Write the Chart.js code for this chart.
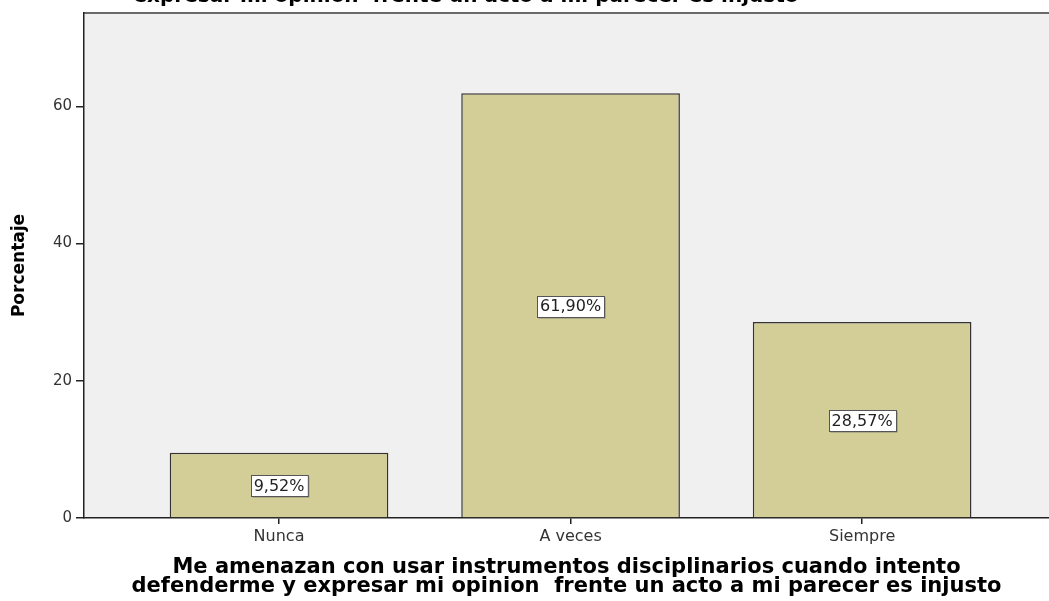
<!DOCTYPE html>
<html>
<head>
<meta charset="utf-8">
<script src="https://cdn.jsdelivr.net/npm/chart.js@4/dist/chart.umd.min.js"></script>
<style>
  html, body { margin: 0; padding: 0; background: #fff; overflow: hidden; }
  #wrap { width: 1049px; height: 601px; }
</style>
</head>
<body>
<div id="wrap"><canvas id="myChart"></canvas></div>
<script>
/* datos */
const categorias = ['Nunca', 'A veces', 'Siempre'];
const porcentajes = [9.52, 61.90, 28.57];
const ticksY = [0, 20, 40, 60];

const tituloEje = ['Me amenazan con usar instrumentos disciplinarios cuando intento',
  'defenderme y expresar mi opinion  frente un acto a mi parecer es injusto'];
const tituloArriba = 'expresar mi opinion  frente un acto a mi parecer es injusto';

Chart.defaults.font.family = 'DejaVu Sans';

/* fondo gris del area y linea superior */
const fondoPlot = {
  id: 'fondoPlot',
  beforeDraw(chart) {
    const { ctx, chartArea: a } = chart;
    ctx.save();
    ctx.fillStyle = '#f0f0f0';
    ctx.fillRect(a.left, a.top, a.right - a.left + 5, a.bottom - a.top);
    ctx.strokeStyle = '#6a6a6a';
    ctx.lineWidth = 2;
    ctx.beginPath();
    ctx.moveTo(a.left, a.top);
    ctx.lineTo(a.right + 5, a.top);
    ctx.stroke();
    ctx.restore();
  }
};

/* titulo cortado arriba */
const tituloSuperior = {
  id: 'tituloSuperior',
  afterDraw(chart) {
    const { ctx } = chart;
    ctx.save();
    ctx.font = 'bold 20px "DejaVu Sans"';
    ctx.fillStyle = '#000';
    ctx.textAlign = 'center';
    ctx.textBaseline = 'alphabetic';
    ctx.fillText(tituloArriba, 466, 2);
    ctx.restore();
  }
};

/* etiquetas de porcentaje en cajas blancas */
const etiquetas = {
  id: 'etiquetas',
  afterDatasetsDraw(chart) {
    const { ctx } = chart;
    const meta = chart.getDatasetMeta(0);
    ctx.save();
    ctx.font = '16px "DejaVu Sans"';
    ctx.textAlign = 'center';
    ctx.textBaseline = 'middle';
    meta.data.forEach(function(bar, i) {
      const txt = porcentajes[i].toFixed(2).replace('.', ',') + '%';
      const cy = (bar.y + bar.base) / 2;
      const w = ctx.measureText(txt).width + 6;
      const h = 21;
      const x0 = Math.round(bar.x - w / 2) + 0.5;
      const y0 = Math.round(cy - h / 2) + 1.5;
      ctx.fillStyle = '#8a8a7a';
      ctx.fillRect(x0 + 1, y0 + 1, w, h);
      ctx.fillStyle = '#fff';
      ctx.fillRect(x0, y0, w, h);
      ctx.strokeStyle = '#555';
      ctx.lineWidth = 1;
      ctx.strokeRect(x0, y0, w, h);
      ctx.fillStyle = '#222';
      ctx.fillText(txt, bar.x, cy + 2);
    });
    ctx.restore();
  }
};

const ctx = document.getElementById('myChart').getContext('2d');

// eslint-disable-next-line no-undef
const chart = new Chart(ctx, {
  type: 'bar',
  data: {
    datasets: [{
      label: 'Porcentaje',
      data: porcentajes.map(function(v, i) { return { x: i, y: v }; }),
      backgroundColor: '#d3ce97',
      borderColor: '#333',
      borderWidth: { top: 1.5, left: 1.5, right: 1.5, bottom: 0 },
      borderSkipped: false,
      categoryPercentage: 1,
      barPercentage: 0.75
    }]
  },
  options: {
    responsive: true,
    maintainAspectRatio: false,
    animation: false,
    layout: { padding: { top: 10, right: 0, left: 0, bottom: 0 } },
    plugins: {
      legend: { display: false },
      tooltip: { enabled: false }
    },
    scales: {
      x: {
        type: 'linear',
        offset: false,
        min: -0.669,
        max: 2.641,
        afterBuildTicks: function(scale) {
          scale.ticks = categorias.map(function(c, i) { return { value: i }; });
        },
        afterFit: function(scale) { scale.height = 83; },
        grid: { offset: false, drawOnChartArea: false, drawTicks: true, tickLength: 6, color: '#222', lineWidth: 1.5 },
        border: { display: true, color: '#222', width: 1.5 },
        ticks: {
          padding: 3,
          color: '#333',
          font: { size: 16 },
          autoSkip: false,
          maxRotation: 0,
          callback: function(v) { return categorias[v]; }
        },
        title: {
          display: true,
          text: tituloEje,
          color: '#000',
          font: { size: 21, weight: 'bold', lineHeight: '19px' },
          padding: { top: 0, bottom: 5 }
        }
      },
      y: {
        min: 0,
        max: 73.6,
        afterBuildTicks: function(scale) {
          scale.ticks = ticksY.map(function(v) { return { value: v }; });
        },
        afterFit: function(scale) { scale.width = 84; },
        grid: { drawOnChartArea: false, drawTicks: true, tickLength: 8, color: '#222', lineWidth: 1.5 },
        border: { display: true, color: '#222', width: 1.5 },
        ticks: { padding: 4, color: '#333', font: { size: 15 } },
        title: {
          display: true,
          text: 'Porcentaje',
          color: '#000',
          font: { size: 17, weight: 'bold' },
          padding: { top: 9, bottom: 0 }
        }
      }
    }
  },
  plugins: [fondoPlot, etiquetas, tituloSuperior]
});
</script>
</body>
</html>
